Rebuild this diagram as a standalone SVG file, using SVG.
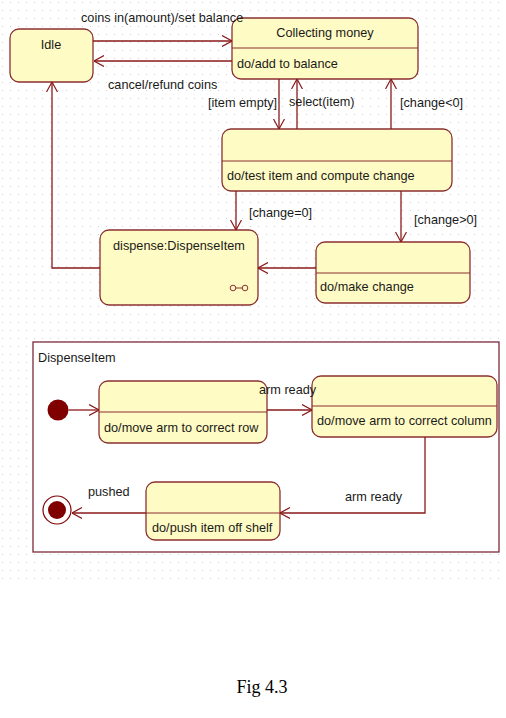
<svg xmlns="http://www.w3.org/2000/svg" width="506" height="718" viewBox="0 0 506 718">
<defs>
<pattern id="dots" x="2" y="2" width="8" height="8" patternUnits="userSpaceOnUse">
<rect x="0" y="0" width="1" height="1" fill="#cfcfd6"/>
</pattern>
<marker id="arr" viewBox="0 0 10 12" refX="10" refY="6" markerWidth="10" markerHeight="12" markerUnits="userSpaceOnUse" orient="auto">
<path d="M0,0.5 L10,6 L0,11.5" fill="none" stroke="#8b1a1a" stroke-width="1.2"/>
</marker>
</defs>
<style>
.st{fill:#fffbc4;stroke:#8b3030;stroke-width:1.3}
.dv{stroke:#8b3030;stroke-width:1.2}
.t{font-family:"Liberation Sans",Arial,sans-serif;font-size:12.7px;fill:#1a1a1a}
.c{stroke:#8b1a1a;stroke-width:1.3;fill:none}
.ca{stroke:#8b1a1a;stroke-width:1.3;fill:none;marker-end:url(#arr)}
</style>
<rect x="0" y="0" width="506" height="586" fill="#ffffff"/>
<rect x="0" y="0" width="506" height="586" fill="url(#dots)"/>

<g id="idle">
<rect class="st" x="10" y="29" width="83" height="53" rx="9"/>
<text class="t" x="51" y="49" text-anchor="middle">Idle</text>
</g>

<g id="collecting">
<rect class="st" x="232" y="18" width="186" height="61" rx="9"/>
<line class="dv" x1="232" y1="48" x2="418" y2="48"/>
<text class="t" x="325" y="37" text-anchor="middle">Collecting money</text>
<text class="t" x="237" y="68">do/add to balance</text>
</g>

<g id="test">
<rect class="st" x="222" y="129" width="230" height="62" rx="9"/>
<line class="dv" x1="222" y1="161" x2="452" y2="161"/>
<text class="t" x="227" y="180">do/test item and compute change</text>
</g>

<g id="dispense">
<rect class="st" x="100" y="230" width="158" height="75" rx="9"/>
<text class="t" x="179" y="250" text-anchor="middle">dispense:DispenseItem</text>
<circle cx="233" cy="288" r="2.8" fill="#fffbc4" stroke="#8b3030" stroke-width="1"/>
<circle cx="245" cy="288" r="2.8" fill="#fffbc4" stroke="#8b3030" stroke-width="1"/>
<line x1="235.8" y1="288" x2="242.2" y2="288" stroke="#8b3030" stroke-width="1"/>
</g>

<g id="makechange">
<rect class="st" x="316" y="242" width="154" height="61" rx="9"/>
<line class="dv" x1="316" y1="273" x2="470" y2="273"/>
<text class="t" x="320" y="291">do/make change</text>
</g>

<g id="dispenseitem-frame">
<rect x="33" y="342" width="466" height="210" fill="#ffffff" stroke="#7a2a3a" stroke-width="1.3"/>
<text class="t" x="38" y="362">DispenseItem</text>
</g>

<g id="initial">
<circle cx="58" cy="410" r="10.5" fill="#800000"/>
</g>

<g id="row">
<rect class="st" x="99" y="381" width="168" height="62" rx="9"/>
<line class="dv" x1="99" y1="412" x2="267" y2="412"/>
<text class="t" x="104" y="432">do/move arm to correct row</text>
</g>

<g id="column">
<rect class="st" x="312" y="376" width="185" height="61" rx="9"/>
<line class="dv" x1="312" y1="406" x2="497" y2="406"/>
<text class="t" x="317" y="425">do/move arm to correct column</text>
</g>

<g id="push">
<rect class="st" x="146" y="482" width="134" height="58" rx="9"/>
<line class="dv" x1="146" y1="513" x2="280" y2="513"/>
<text class="t" x="152" y="532">do/push item off shelf</text>
</g>

<g id="final">
<circle cx="57" cy="510" r="14" fill="#ffffff" stroke="#800000" stroke-width="1.2"/>
<circle cx="57" cy="510" r="9" fill="#800000"/>
</g>

<g id="connectors">
<line class="ca" x1="93" y1="41" x2="232" y2="41"/>
<text class="t" x="81" y="22">coins in(amount)/set balance</text>
<line class="ca" x1="232" y1="61" x2="94" y2="61"/>
<text class="t" x="108" y="89">cancel/refund coins</text>
<line class="ca" x1="279" y1="79" x2="279" y2="129"/>
<text class="t" x="208" y="107">[item empty]</text>
<line class="ca" x1="297" y1="129" x2="297" y2="79"/>
<text class="t" x="289" y="106">select(item)</text>
<line class="ca" x1="391" y1="129" x2="391" y2="79"/>
<text class="t" x="400" y="107">[change&lt;0]</text>
<line class="ca" x1="236" y1="191" x2="236" y2="230"/>
<text class="t" x="249" y="217">[change=0]</text>
<line class="ca" x1="401" y1="191" x2="401" y2="242"/>
<text class="t" x="414" y="224">[change&gt;0]</text>
<line class="ca" x1="316" y1="268" x2="258" y2="268"/>
<polyline class="ca" points="100,268 52,268 52,82"/>
<line class="ca" x1="68.5" y1="410" x2="99" y2="410"/>
<line class="ca" x1="267" y1="410" x2="312" y2="410"/>
<text class="t" x="259" y="394">arm ready</text>
<polyline class="ca" points="425,437 425,513 280,513"/>
<text class="t" x="345" y="501">arm ready</text>
<line class="ca" x1="146" y1="513" x2="72" y2="513"/>
<text class="t" x="88" y="496">pushed</text>
</g>

<text x="262" y="693" text-anchor="middle" font-family="Liberation Serif,'Times New Roman',serif" font-size="18" fill="#000000">Fig 4.3</text>
</svg>
